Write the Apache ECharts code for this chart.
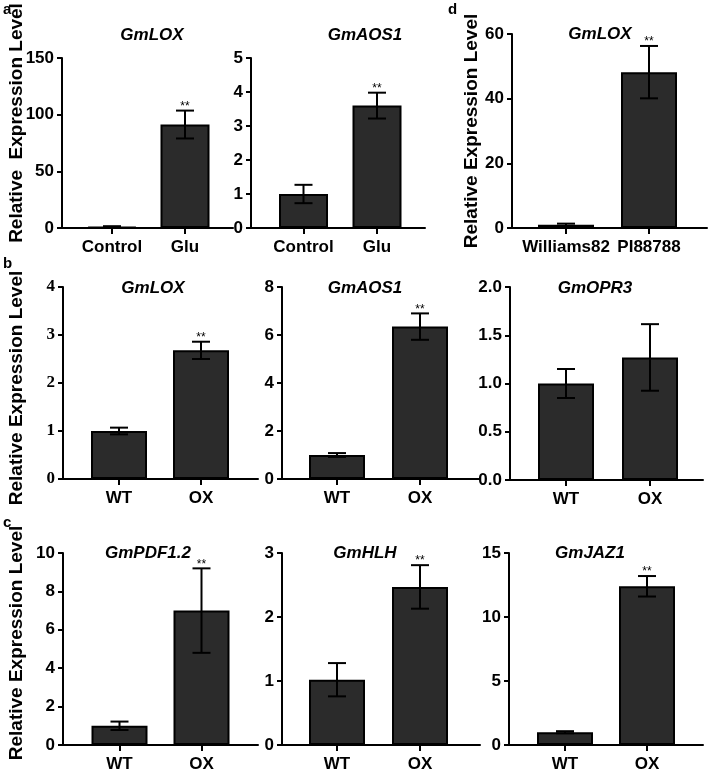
<!DOCTYPE html>
<html><head><meta charset="utf-8">
<script src="https://cdn.jsdelivr.net/npm/echarts@6/dist/echarts.min.js"></script>
<style>html,body{margin:0;padding:0;background:#fff}#c{width:709px;height:774px}</style>
</head><body><div id="c"></div>
<script>
// ---------- data ----------
const catsGlu = ['Control', 'Glu'];
const catsCultivar = ['Williams82', 'PI88788'];
const catsLine = ['WT', 'OX'];

const a1Mean = [1.0, 91.3];   const a1Err = [0.6, 12.3];  const a1Star = ['', '**'];
const a2Mean = [1.0, 3.6];    const a2Err = [0.27, 0.38]; const a2Star = ['', '**'];
const dMean  = [1.0, 48.2];   const dErr  = [0.35, 8.1];  const dStar  = ['', '**'];
const b1Mean = [1.0, 2.68];   const b1Err = [0.07, 0.18]; const b1Star = ['', '**'];
const b2Mean = [1.0, 6.35];   const b2Err = [0.08, 0.55]; const b2Star = ['', '**'];
const b3Mean = [1.0, 1.27];   const b3Err = [0.15, 0.345];const b3Star = ['', ''];
const c1Mean = [1.0, 7.0];    const c1Err = [0.22, 2.2];  const c1Star = ['', '**'];
const c2Mean = [1.02, 2.47];  const c2Err = [0.26, 0.34]; const c2Star = ['', '**'];
const c3Mean = [1.0, 12.4];   const c3Err = [0.08, 0.8];  const c3Star = ['', '**'];

const yTicks = {
  a1: [0, 150, 50], a2: [0, 5, 1], d: [0, 60, 20],
  b1: [0, 4, 1], b2: [0, 8, 2], b3: [0, 2, 0.5],
  c1: [0, 10, 2], c2: [0, 3, 1], c3: [0, 15, 5]
};
const titles = { a1: 'GmLOX', a2: 'GmAOS1', d: 'GmLOX', b1: 'GmLOX', b2: 'GmAOS1', b3: 'GmOPR3', c1: 'GmPDF1.2', c2: 'GmHLH', c3: 'GmJAZ1' };

// ---------- layout (pixels) ----------
const layout = {
  a1: { ax: 62,  end: 233, c0: 112, c1: 185, top: 58,  bot: 228, bw: 49, tx: 152, ty: 35 },
  a2: { ax: 251, end: 425, c0: 303.5, c1: 377, top: 58, bot: 228, bw: 49, tx: 365, ty: 35 },
  d:  { ax: 512, end: 707, c0: 566, c1: 649, top: 34,  bot: 228, bw: 56, tx: 600, ty: 34 },
  b1: { ax: 63,  end: 258, c0: 119, c1: 201, top: 287, bot: 479, bw: 56, tx: 153, ty: 288 },
  b2: { ax: 282, end: 480, c0: 337, c1: 420, top: 287, bot: 479, bw: 56, tx: 365, ty: 288 },
  b3: { ax: 510, end: 703, c0: 566, c1: 650, top: 287, bot: 480, bw: 56, tx: 595, ty: 288 },
  c1: { ax: 63,  end: 258, c0: 119.5, c1: 201.5, top: 553, bot: 745, bw: 56, tx: 148, ty: 553 },
  c2: { ax: 282, end: 480, c0: 337, c1: 420, top: 553, bot: 745, bw: 56, tx: 365, ty: 553 },
  c3: { ax: 509, end: 703, c0: 565, c1: 647, top: 553, bot: 745, bw: 56, tx: 590, ty: 553 }
};

const panels = [
  { id: 'a1', cats: catsGlu, mean: a1Mean, err: a1Err, star: a1Star },
  { id: 'a2', cats: catsGlu, mean: a2Mean, err: a2Err, star: a2Star },
  { id: 'd',  cats: catsCultivar, mean: dMean, err: dErr, star: dStar },
  { id: 'b1', cats: catsLine, mean: b1Mean, err: b1Err, star: b1Star, serif: true },
  { id: 'b2', cats: catsLine, mean: b2Mean, err: b2Err, star: b2Star },
  { id: 'b3', cats: catsLine, mean: b3Mean, err: b3Err, star: b3Star, dec: 1 },
  { id: 'c1', cats: catsLine, mean: c1Mean, err: c1Err, star: c1Star },
  { id: 'c2', cats: catsLine, mean: c2Mean, err: c2Err, star: c2Star },
  { id: 'c3', cats: catsLine, mean: c3Mean, err: c3Err, star: c3Star }
];

const SANS = '"Liberation Sans", Arial, sans-serif';
const SERIF = '"Liberation Serif", "Times New Roman", serif';

const grid = [], xAxis = [], yAxis = [], series = [], graphic = [];
panels.forEach((p, i) => {
  const L = layout[p.id];
  const sp = L.c1 - L.c0;
  const xmin = -(L.c0 - L.ax) / sp;
  const xmax = 1 + (L.end - L.c1) / sp;
  const yt = yTicks[p.id];
  grid.push({ left: L.ax, top: L.top, width: L.end - L.ax, height: L.bot - L.top });
  xAxis.push({
    gridIndex: i, type: 'value', min: xmin, max: xmax,
    splitLine: { show: false },
    axisLine: { show: true, onZero: false, lineStyle: { color: '#000', width: 2 } },
    axisTick: { show: true, customValues: [0, 1], length: 6, lineStyle: { color: '#000', width: 2 } },
    axisLabel: { customValues: [0, 1], formatter: v => p.cats[Math.round(v)], color: '#000',
      fontFamily: SANS, fontWeight: 'bold', fontSize: 17, margin: 11 }
  });
  yAxis.push({
    gridIndex: i, type: 'value', min: yt[0], max: yt[1], interval: yt[2],
    splitLine: { show: false },
    axisLine: { show: true, onZero: false, lineStyle: { color: '#000', width: 2 } },
    axisTick: { show: true, length: 5, lineStyle: { color: '#000', width: 2 } },
    axisLabel: { color: '#000', fontFamily: p.serif ? SERIF : SANS, fontWeight: 'bold', fontSize: 17, margin: 8,
      formatter: v => p.dec ? v.toFixed(p.dec) : String(v) }
  });
  series.push({
    type: 'bar', xAxisIndex: i, yAxisIndex: i, barWidth: L.bw,
    data: p.mean.map((v, k) => [k, v]),
    itemStyle: { color: '#2b2b2b', borderColor: '#000', borderWidth: 2 },
    silent: true, animation: false, z: 2
  });
  series.push({
    type: 'custom', xAxisIndex: i, yAxisIndex: i, z: 5, animation: false, silent: true, clip: false,
    data: p.mean.map((v, k) => [k, v, p.err[k], p.star[k]]),
    renderItem: (params, api) => {
      const x = api.value(0), m = api.value(1), e = api.value(2);
      const hi = api.coord([x, m + e]), lo = api.coord([x, m - e]);
      const cw = 9;
      const st = { stroke: '#000', lineWidth: 2 };
      const children = [
        { type: 'line', shape: { x1: hi[0], y1: hi[1], x2: lo[0], y2: lo[1] }, style: st },
        { type: 'line', shape: { x1: hi[0] - cw, y1: hi[1], x2: hi[0] + cw, y2: hi[1] }, style: st },
        { type: 'line', shape: { x1: lo[0] - cw, y1: lo[1], x2: lo[0] + cw, y2: lo[1] }, style: st }
      ];
      const s = p.star[params.dataIndex];
      if (s) children.push({ type: 'text', style: { text: s, x: hi[0], y: hi[1] + 2, textAlign: 'center', textVerticalAlign: 'bottom',
        fill: '#000', font: '12px ' + SANS } });
      return { type: 'group', children };
    }
  });
  graphic.push({ type: 'text', style: { text: titles[p.id], x: L.tx, y: L.ty, textAlign: 'center', textVerticalAlign: 'middle',
    fill: '#000', font: 'italic bold 17px ' + SANS } });
});

const ylab = (txt, x, y) => ({ type: 'text', rotation: Math.PI / 2, x: x, y: y,
  style: { text: txt, x: 0, y: 0, textAlign: 'center', textVerticalAlign: 'middle', fill: '#000', font: 'bold 19px ' + SANS } });
graphic.push(ylab('Relative  Expression Level', 17, 123));
graphic.push(ylab('Relative Expression Level', 472, 131));
graphic.push(ylab('Relative Expression Level', 17, 388));
graphic.push(ylab('Relative Expression Level', 17, 643));
const letter = (t, x, y) => ({ type: 'text', style: { text: t, x, y, textAlign: 'left', textVerticalAlign: 'middle', fill: '#000', font: 'bold 15px ' + SANS } });
graphic.push(letter('a', 3, 10), letter('d', 448, 10), letter('b', 3, 264), letter('c', 3, 523));

const chart = echarts.init(document.getElementById('c'), null, { renderer: 'canvas' });
chart.setOption({ animation: false, grid, xAxis, yAxis, series, graphic });
</script></body></html>
